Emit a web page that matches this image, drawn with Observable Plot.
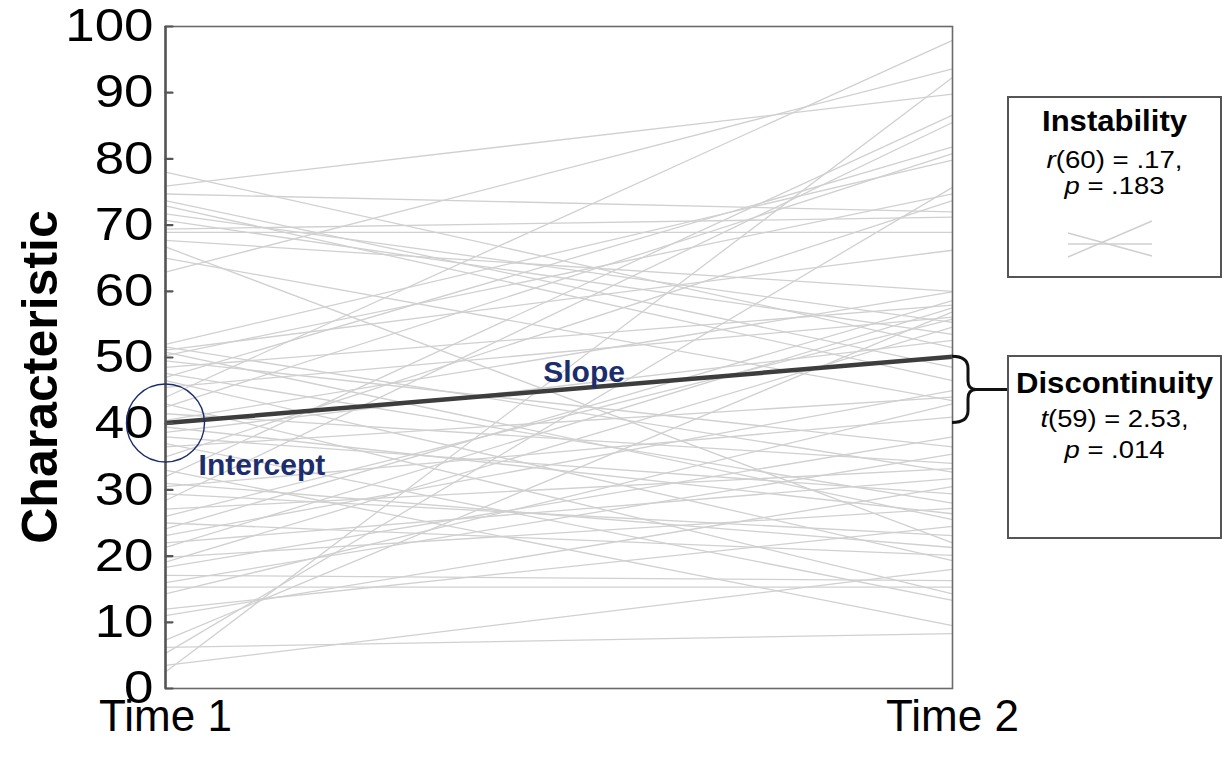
<!DOCTYPE html>
<html>
<head>
<meta charset="utf-8">
<script src="https://cdn.jsdelivr.net/npm/d3@7"></script>
<script src="https://cdn.jsdelivr.net/npm/@observablehq/plot@0.6"></script>
<style>
  html, body { margin: 0; padding: 0; background: #fff; }
  #chart { position: relative; width: 1225px; height: 762px; }
</style>
</head>
<body>
<div id="chart"></div>
<script>
// Time 1 and Time 2 values for each person
const time1 = [78.0, 75.9, 74.7, 73.7, 72.9, 71.7, 70.7, 69.4, 68.9, 67.7, 66.7, 65.0, 62.9,
  52.0, 51.6, 51.1, 50.8, 50.3, 49.5, 48.5, 47.6, 47.0, 46.5, 45.5, 44.0, 43.0, 42.5, 41.5, 40.5,
  39.5, 38.7, 38.0, 37.0, 36.5, 35.0, 33.0, 32.0, 31.0, 30.5, 29.4, 28.4, 27.1, 26.0, 25.0, 24.1,
  23.1, 22.0, 21.3, 19.8, 19.1, 18.3, 17.1, 16.0, 15.3, 14.3, 12.0, 11.0, 7.3, 6.2, 5.3, 3.5, 2.5];
const time2 = [51.5, 89.8, 72.0, 48.5, 46.5, 55.3, 53.5, 71.2, 68.9, 60.0, 22.0, 43.5, 93.6,
  79.8, 32.7, 66.2, 25.5, 74.7, 36.5, 57.9, 28.0, 81.8, 19.3, 56.1, 97.9, 14.3, 80.8, 34.0, 59.9,
  26.4, 52.6, 29.4, 13.3, 44.0, 73.7, 9.5, 86.6, 21.3, 41.0, 23.1, 85.5, 33.2, 55.8, 20.1, 58.6,
  45.0, 31.7, 57.5, 27.2, 54.6, 38.0, 16.3, 35.4, 15.3, 43.0, 24.5, 30.5, 56.9, 8.3, 75.7, 18.0, 92.3];
const meanLine = [40.1, 50.1];          // average at Time 1, Time 2
const timePoints = [1, 2];
const timeLabels = ["Time 1", "Time 2"];
const yTicks = [0, 10, 20, 30, 40, 50, 60, 70, 80, 90, 100];

const people = time1.map((v, i) => ({t1: v, t2: time2[i]}));
const mean = [{t1: meanLine[0], t2: meanLine[1]}];

const font = "'Liberation Sans', Arial, sans-serif";
const navy = "#1c2d6e";

const tickShape = {draw(ctx, l) { ctx.moveTo(0, 0); ctx.lineTo(0, -l); }};

const plot = Plot.plot({
  width: 1225,
  height: 762,
  marginLeft: 165,
  marginRight: 273,
  marginTop: 26,
  marginBottom: 74,
  style: {fontFamily: font, background: "#fff", color: "#000"},
  x: {domain: [1, 2], type: "linear"},
  y: {domain: [0, 100]},
  marks: [
    Plot.link(people, {x1: () => timePoints[0], y1: "t1", x2: () => timePoints[1], y2: "t2",
      stroke: "#d0d0d0", strokeWidth: 1.3}),
    Plot.link(mean, {x1: () => timePoints[0], y1: "t1", x2: () => timePoints[1], y2: "t2",
      stroke: "#3d3d3d", strokeWidth: 4.5}),
    Plot.frame({stroke: "#6a6a6a", strokeWidth: 1.6}),
    Plot.ruleX([timePoints[0]], {stroke: "#555", strokeWidth: 2.5}),
    Plot.vector(yTicks, {x: () => timePoints[0], y: d => d, length: 7, rotate: 90, anchor: "start",
      shape: tickShape, stroke: "#555", strokeWidth: 2.2}),
    Plot.axisY({ticks: yTicks, tickSize: 0, tickPadding: 12, fontSize: 46, label: null}),
    Plot.axisX({ticks: timePoints, tickFormat: (d, i) => timeLabels[i], tickSize: 0, tickPadding: 11,
      fontSize: 44, label: null}),
    Plot.dot([{x: timePoints[0], y: meanLine[0]}], {x: "x", y: "y", r: 39, stroke: navy,
      strokeWidth: 1.4, fill: "none"}),
    Plot.text(["Intercept"], {x: () => 1.042, y: () => 33.7, text: d => d, textAnchor: "start",
      fontSize: 30, fontWeight: "bold", fill: navy}),
    Plot.text(["Slope"], {x: () => 1.480, y: () => 47.7, text: d => d, textAnchor: "start",
      fontSize: 30, fontWeight: "bold", fill: navy})
  ]
});
document.getElementById("chart").appendChild(plot);

const svg = d3.select(plot);
const ys = plot.scale("y"), xs = plot.scale("x");
const y = v => ys.apply(v), x = v => xs.apply(v);

// slightly widen the y tick labels as in the reference
svg.selectAll('g[aria-label="y-axis tick label"] text').each(function () {
  const w = this.getComputedTextLength();
  d3.select(this).attr("textLength", w * 1.15).attr("lengthAdjust", "spacingAndGlyphs");
});

// Y axis title
svg.append("text")
  .attr("transform", `translate(57,${(y(0) + y(100)) / 2 + 20}) rotate(-90)`)
  .attr("text-anchor", "middle")
  .attr("font-family", font).attr("font-weight", "bold").attr("font-size", 50)
  .text("Characteristic");

// Brace spanning the mean change at Time 2
const xr = x(timePoints[1]);
const yTop = y(meanLine[1]), yBot = y(meanLine[0]), yMid = (yTop + yBot) / 2;
const bx = xr + 16, tip = xr + 24;
svg.append("path")
  .attr("d", `M${xr},${yTop} Q${bx},${yTop} ${bx},${yTop + 12} L${bx},${yMid - 9} Q${bx},${yMid} ${tip},${yMid}
    Q${bx},${yMid} ${bx},${yMid + 9} L${bx},${yBot - 12} Q${bx},${yBot} ${xr},${yBot}
    M${tip},${yMid} L1008,${yMid}`)
  .attr("fill", "none").attr("stroke", "#111").attr("stroke-width", 3);

// Boxes
function box(x0, y0, w, h) {
  svg.append("rect").attr("x", x0).attr("y", y0).attr("width", w).attr("height", h)
    .attr("fill", "#fff").attr("stroke", "#555").attr("stroke-width", 2);
}
function line(cx, by, parts, size, len) {
  const t = svg.append("text").attr("x", cx).attr("y", by).attr("text-anchor", "middle")
    .attr("font-family", font).attr("font-size", size);
  if (len) t.attr("textLength", len).attr("lengthAdjust", "spacingAndGlyphs");
  parts.forEach(([s, st]) => {
    const ts = t.append("tspan").text(s);
    if (st === "b") ts.attr("font-weight", "bold");
    if (st === "i") ts.attr("font-style", "italic");
  });
}
const cx = 1114.5;
box(1008, 97, 213, 180);
line(cx, 131, [["Instability", "b"]], 29, 145);
line(cx, 168, [["r", "i"], ["(60) = .17,", ""]], 23, 136);
line(cx, 194, [["p", "i"], [" = .183", ""]], 23, 100);
// mini icon
[[1068, 257, 1152, 221], [1068, 233, 1152, 256], [1068, 244, 1152, 244]].forEach(([a, b, c, d]) =>
  svg.append("line").attr("x1", a).attr("y1", b).attr("x2", c).attr("y2", d)
    .attr("stroke", "#cfcfcf").attr("stroke-width", 1.5));

box(1008, 356, 213, 182);
line(cx, 393, [["Discontinuity", "b"]], 29, 197);
line(cx, 427, [["t", "i"], ["(59) = 2.53,", ""]], 23, 148);
line(cx, 458, [["p", "i"], [" = .014", ""]], 23, 100);
</script>
</body>
</html>
